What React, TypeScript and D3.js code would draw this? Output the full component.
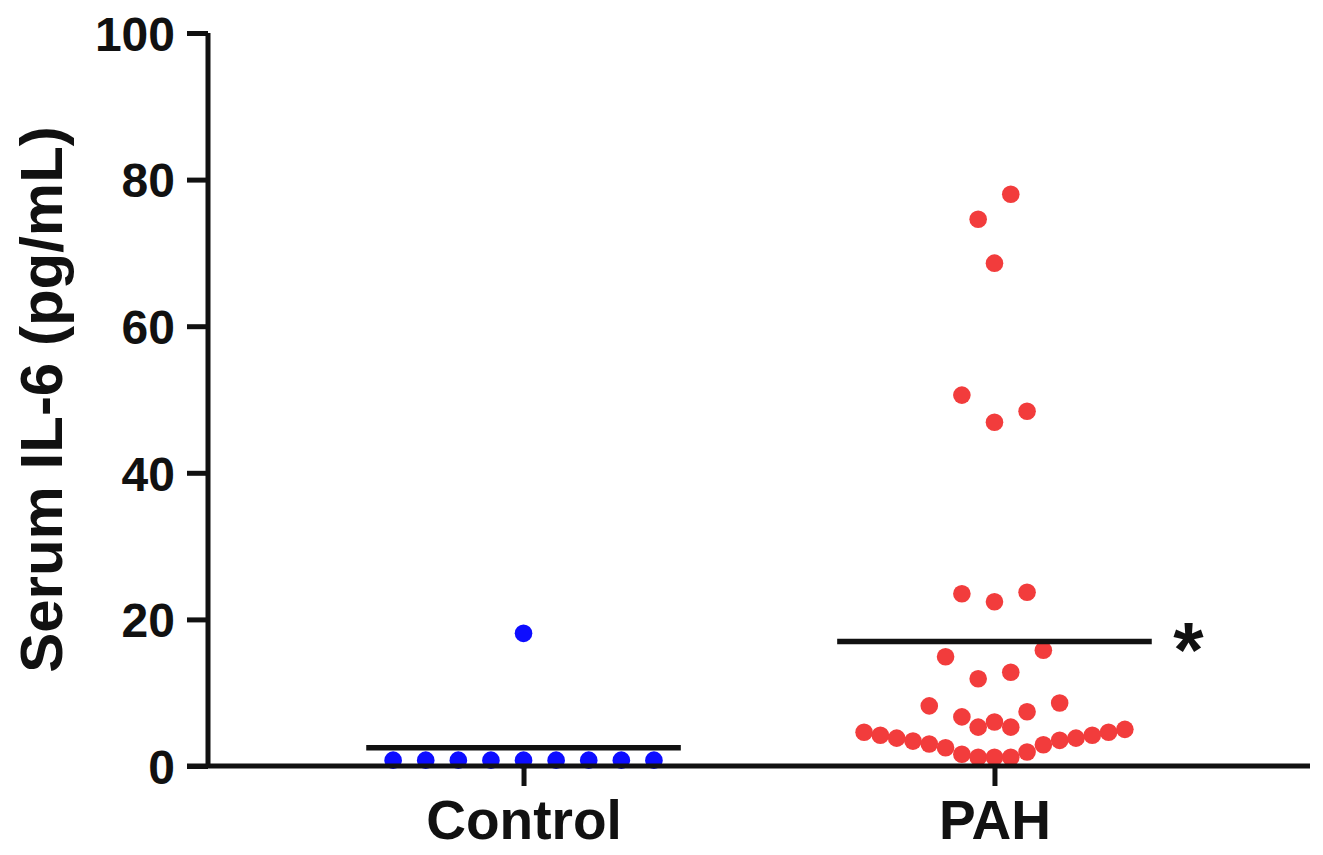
import React, { useRef, useEffect } from 'react';
import * as d3 from 'd3';

// groups on the x axis
const groups = ['Control', 'PAH'];
const yTicks = [0, 20, 40, 60, 80, 100];

// each point: [IL-6 value (pg/mL), column slot in the dot plot]
const controlValues = [0.8, 0.8, 0.8, 0.8, 0.8, 0.8, 0.8, 0.8, 0.8, 18.1];
const controlSlots = [-8, -6, -4, -2, 0, 2, 4, 6, 8, 0];

const pahValues = [
  4.6, 4.2, 3.8, 3.4, 3.0, 2.5, 1.6, 1.2, 1.2, 1.2, 1.9, 2.9, 3.5, 3.8, 4.2, 4.6, 5.0,
  6.7, 5.3, 6.0, 5.3, 7.4,
  8.2, 8.6, 11.9, 12.8, 14.9, 15.8,
  23.5, 22.4, 23.7,
  50.6, 46.9, 48.4,
  74.6, 68.6, 78.0,
];
const pahSlots = [
  -8, -7, -6, -5, -4, -3, -2, -1, 0, 1, 2, 3, 4, 5, 6, 7, 8,
  -2, -1, 0, 1, 2,
  -4, 4, -1, 1, -3, 3,
  -2, 0, 2,
  -2, 0, 2,
  -1, 0, 1,
];

// group means as drawn in the figure
const meanValues = [2.5, 17.0];
const groupColors = ['#0d0dff', '#f23c3c'];

const App = () => {
  const svgRef = useRef<SVGSVGElement>(null);
  const width = 1323;
  const height = 855;

  useEffect(() => {
    const svg = d3.select(svgRef.current);
    svg.selectAll('*').remove();

    const margin = { top: 33, right: 13, bottom: 89, left: 208 };
    const font = 'Liberation Sans, Arial, sans-serif';

    const x = d3.scalePoint()
      .domain(groups)
      .range([margin.left, width - margin.right])
      .padding(0.67);

    const y = d3.scaleLinear()
      .domain([0, 100])
      .range([height - margin.bottom, margin.top]);

    // one slot = horizontal spacing between neighbouring dots
    const slot = d3.scaleLinear().domain([-1, 1]).range([-16.3, 16.3]);

    const series = [
      { name: 'Control', values: controlValues, slots: controlSlots },
      { name: 'PAH', values: pahValues, slots: pahSlots },
    ];

    // dots
    series.forEach((s, i) => {
      svg.append('g')
        .selectAll('circle')
        .data(s.values)
        .enter()
        .append('circle')
        .attr('cx', (d, j) => x(s.name) + slot(s.slots[j]))
        .attr('cy', d => y(d))
        .attr('r', 8.8)
        .attr('fill', groupColors[i]);
    });

    // mean lines
    groups.forEach((g, i) => {
      svg.append('line')
        .attr('x1', x(g) + slot(-9.65))
        .attr('x2', x(g) + slot(9.65))
        .attr('y1', y(meanValues[i]))
        .attr('y2', y(meanValues[i]))
        .attr('stroke', '#111')
        .attr('stroke-width', 5.5);
    });

    // significance mark
    svg.append('text')
      .attr('x', x('PAH') + slot(11.9))
      .attr('y', y(meanValues[1]) + 36)
      .attr('text-anchor', 'middle')
      .attr('fill', '#111')
      .style('font-family', font)
      .style('font-weight', 'bold')
      .style('font-size', '78px')
      .text('*');

    // y axis
    const yAxis = svg.append('g')
      .attr('transform', `translate(${margin.left},0)`)
      .call(d3.axisLeft(y).tickValues(yTicks).tickSize(21).tickPadding(12));
    yAxis.selectAll('path, line').attr('stroke', '#111').attr('stroke-width', 5);
    yAxis.select('.domain').attr('d', `M0,${y(100)}V${y(0)}`);
    yAxis.selectAll('text')
      .attr('fill', '#111')
      .attr('dy', '0.36em')
      .style('font-family', font)
      .style('font-weight', 'bold')
      .style('font-size', '48px');

    // x axis
    const xAxis = svg.append('g')
      .attr('transform', `translate(0,${y(0)})`)
      .call(d3.axisBottom(x).tickSize(20).tickPadding(14));
    xAxis.selectAll('path, line').attr('stroke', '#111').attr('stroke-width', 5);
    xAxis.select('.domain').attr('d', `M${margin.left - 21},0H${width - margin.right}`);
    xAxis.selectAll('text')
      .attr('fill', '#111')
      .style('font-family', font)
      .style('font-weight', 'bold')
      .style('font-size', '55px');

    // y axis title
    svg.append('text')
      .attr('transform', `translate(62,${(y(0) + y(100)) / 2}) rotate(-90)`)
      .attr('text-anchor', 'middle')
      .attr('fill', '#111')
      .style('font-family', font)
      .style('font-weight', 'bold')
      .style('font-size', '60px')
      .text('Serum IL-6 (pg/mL)');
  }, []);

  return (
    <svg
      ref={svgRef}
      width={width}
      height={height}
      style={{ position: 'absolute', left: 0, top: 0, background: '#fff' }}
    />
  );
};

export default App;
